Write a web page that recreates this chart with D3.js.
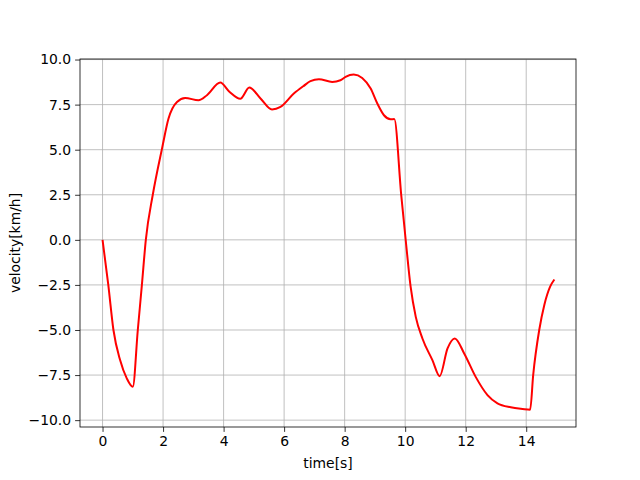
<!DOCTYPE html>
<html>
<head>
<meta charset="utf-8">
<script src="https://cdn.jsdelivr.net/npm/d3@7"></script>
<style>
  body { margin: 0; background: #fff; }
  text { font-family: "DejaVu Sans", sans-serif; }
</style>
</head>
<body>
<svg id="chart" width="640" height="480"></svg>
<script>
// time [s] and velocity [km/h]
var times = [0, 0.19, 0.36, 0.58, 0.8, 1.0, 1.165, 1.3, 1.43, 1.66, 1.97, 2.18, 2.46, 2.73, 3.17, 3.45, 3.89,
	4.2, 4.55, 4.85, 5.22, 5.6, 5.88, 6.32, 6.65, 6.87, 7.15, 7.59, 7.86, 8.03, 8.3, 8.58, 8.86,
	9.08, 9.3, 9.52, 9.64, 9.87, 10.02, 10.18, 10.35, 10.57, 10.9, 11.14, 11.4, 11.64, 11.95,
	12.33, 12.72, 13.05, 13.49, 13.88, 14.13, 14.23, 14.43, 14.6, 14.79, 14.93];
var velocity = [0, -2.5, -5.0, -6.67, -7.68, -8.15, -5.0, -2.5, 0, 2.5, 5.1, 6.73, 7.65, 7.87, 7.74, 8.02, 8.72,
	8.2, 7.82, 8.45, 7.84, 7.23, 7.37, 8.11, 8.54, 8.8, 8.91, 8.76, 8.85, 9.04, 9.17, 8.98, 8.39,
	7.56, 6.91, 6.69, 6.7, 2.48, -0.05, -2.6, -4.27, -5.47, -6.67, -7.56, -6.02, -5.47, -6.3,
	-7.6, -8.61, -9.07, -9.29, -9.38, -9.42, -7.5, -5.0, -3.6, -2.6, -2.2];
var xTicks = [0, 2, 4, 6, 8, 10, 12, 14];
var yTicks = [-10, -7.5, -5, -2.5, 0, 2.5, 5, 7.5, 10];

var margin = {left: 80, top: 59, right: 64, bottom: 53};
var width = 640 - margin.left - margin.right;
var height = 480 - margin.top - margin.bottom;

var svg = d3.select("#chart");
var g = svg.append("g").attr("transform", "translate(" + margin.left + "," + margin.top + ")");

var x = d3.scaleLinear().domain([-0.745, 15.645]).range([0, width]);
var y = d3.scaleLinear().domain([-10.38, 10.03]).range([height, 0]);

// grid
g.append("g").selectAll("line").data(xTicks).enter().append("line")
	.attr("x1", function(d) { return x(d); })
	.attr("x2", function(d) { return x(d); })
	.attr("y1", 0).attr("y2", height)
	.attr("stroke", "#b0b0b0").attr("stroke-width", 0.8);
g.append("g").selectAll("line").data(yTicks).enter().append("line")
	.attr("y1", function(d) { return y(d); })
	.attr("y2", function(d) { return y(d); })
	.attr("x1", 0).attr("x2", width)
	.attr("stroke", "#b0b0b0").attr("stroke-width", 0.8);

// curve
var pts = times.map(function(t, i) { return [t, velocity[i]]; });
var line = d3.line()
	.x(function(d) { return x(d[0]); })
	.y(function(d) { return y(d[1]); })
	.curve(d3.curveMonotoneX);
g.append("path").datum(pts)
	.attr("d", line)
	.attr("fill", "none")
	.attr("stroke", "red")
	.attr("stroke-width", 2)
	.attr("stroke-linejoin", "round");

// axes
var xAxis = g.append("g").attr("transform", "translate(0," + height + ")")
	.call(d3.axisBottom(x).tickValues(xTicks).tickFormat(d3.format("d")).tickSizeOuter(0).tickSize(4.9).tickPadding(4));
var yAxis = g.append("g")
	.call(d3.axisLeft(y).tickValues(yTicks).tickFormat(function(d) { return d3.format(".1f")(d).replace("-", "\u2212"); }).tickSizeOuter(0).tickSize(4.9).tickPadding(4));
[xAxis, yAxis].forEach(function(a) {
	a.select(".domain").remove();
	a.selectAll("text").attr("font-size", 13.9).attr("fill", "#000").style("font-family", "DejaVu Sans");
	a.selectAll("line").attr("stroke", "#000").attr("stroke-width", 0.8);
});

// frame
g.append("rect").attr("width", width).attr("height", height)
	.attr("fill", "none").attr("stroke", "#000").attr("stroke-width", 0.8);

// labels
svg.append("text")
	.attr("x", margin.left + width / 2).attr("y", 468)
	.attr("text-anchor", "middle").attr("font-size", 13.9)
	.text("time[s]");
svg.append("text")
	.attr("transform", "translate(20," + (margin.top + height / 2) + ") rotate(-90)")
	.attr("text-anchor", "middle").attr("font-size", 13.9)
	.text("velocity[km/h]");
</script>
</body>
</html>
